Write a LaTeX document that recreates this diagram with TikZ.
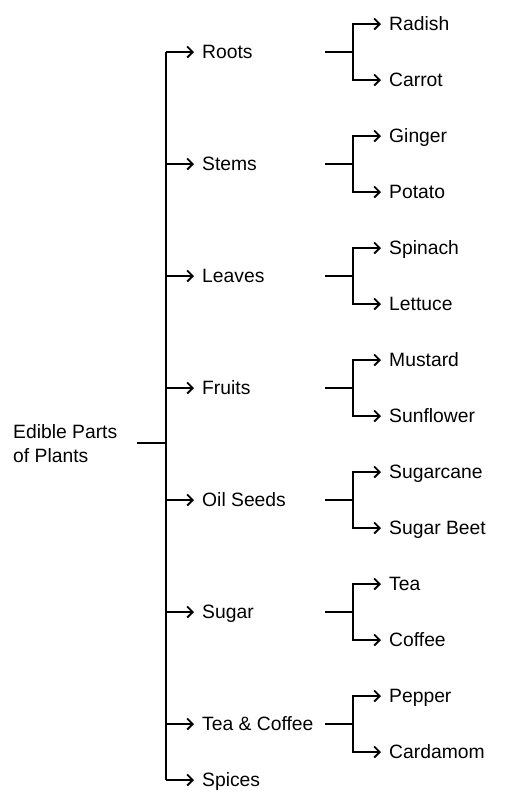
\documentclass[tikz,border=0pt]{standalone}
\usepackage{fontspec}
\setmainfont{Liberation Sans}
\usetikzlibrary{arrows.meta}

\begin{document}
\begin{tikzpicture}[x=1pt, y=-1pt,
  line/.style={line width=1.8pt, line join=miter},
  arr/.style={line, -{Straight Barb[length=5.5pt, width=11pt]}},
  part/.style={anchor=west, inner xsep=8pt, inner ysep=0pt, text height=13.6pt, text depth=0pt, font=\fontsize{19.3}{24}\selectfont}]
\useasboundingbox (0,0) rectangle (508,804);
\node[anchor=west, inner sep=0pt, align=left, font=\fontsize{19.3}{24}\selectfont] (root) at (13,444) {Edible Parts\\of Plants};
\coordinate (stub) at (137,443);
\coordinate (hub) at (166,443);
\coordinate (top) at (166,52);
\coordinate (bot) at (166,780);
\draw[line] (stub) -- (hub);
\draw[line] (top) -- (bot);
\node[part] (roots) at (194,52) {Roots};
\node[part] (stems) at (194,164) {Stems};
\node[part] (leaves) at (194,276) {Leaves};
\node[part] (fruits) at (194,388) {Fruits};
\node[part] (oil) at (194,500) {Oil Seeds};
\node[part] (sugar) at (194,612) {Sugar};
\node[part] (tea) at (194,724) {Tea \& Coffee};
\node[part] (spices) at (194,780) {Spices};
\draw[arr] (roots -| top) -- (roots.west);
\draw[arr] (stems -| top) -- (stems.west);
\draw[arr] (leaves -| top) -- (leaves.west);
\draw[arr] (fruits -| top) -- (fruits.west);
\draw[arr] (oil -| top) -- (oil.west);
\draw[arr] (sugar -| top) -- (sugar.west);
\draw[arr] (tea -| top) -- (tea.west);
\draw[arr] (spices -| top) -- (spices.west);
% second level
\node[part] (radish) at (381,24) {Radish};
\node[part] (carrot) at (381,80) {Carrot};
\node[part] (ginger) at (381,136) {Ginger};
\node[part] (potato) at (381,192) {Potato};
\node[part] (spinach) at (381,248) {Spinach};
\node[part] (lettuce) at (381,304) {Lettuce};
\node[part] (mustard) at (381,360) {Mustard};
\node[part] (sunflower) at (381,416) {Sunflower};
\node[part] (sugarcane) at (381,472) {Sugarcane};
\node[part] (beet) at (381,528) {Sugar Beet};
\node[part] (tealeaf) at (381,584) {Tea};
\node[part] (coffee) at (381,640) {Coffee};
\node[part] (pepper) at (381,696) {Pepper};
\node[part] (cardamom) at (381,752) {Cardamom};
\coordinate (roots-o) at (325,52);   \coordinate (roots-j) at (353,52);
\coordinate (stems-o) at (325,164);  \coordinate (stems-j) at (353,164);
\coordinate (leaves-o) at (325,276); \coordinate (leaves-j) at (353,276);
\coordinate (fruits-o) at (325,388); \coordinate (fruits-j) at (353,388);
\coordinate (oil-o) at (325,500);    \coordinate (oil-j) at (353,500);
\coordinate (sugar-o) at (325,612);  \coordinate (sugar-j) at (353,612);
\coordinate (tea-o) at (325,724);    \coordinate (tea-j) at (353,724);
\draw[line] (roots-o) -- (roots-j);
\draw[arr] (roots-j) |- (radish.west);
\draw[arr] (roots-j) |- (carrot.west);
\draw[line] (stems-o) -- (stems-j);
\draw[arr] (stems-j) |- (ginger.west);
\draw[arr] (stems-j) |- (potato.west);
\draw[line] (leaves-o) -- (leaves-j);
\draw[arr] (leaves-j) |- (spinach.west);
\draw[arr] (leaves-j) |- (lettuce.west);
\draw[line] (fruits-o) -- (fruits-j);
\draw[arr] (fruits-j) |- (mustard.west);
\draw[arr] (fruits-j) |- (sunflower.west);
\draw[line] (oil-o) -- (oil-j);
\draw[arr] (oil-j) |- (sugarcane.west);
\draw[arr] (oil-j) |- (beet.west);
\draw[line] (sugar-o) -- (sugar-j);
\draw[arr] (sugar-j) |- (tealeaf.west);
\draw[arr] (sugar-j) |- (coffee.west);
\draw[line] (tea-o) -- (tea-j);
\draw[arr] (tea-j) |- (pepper.west);
\draw[arr] (tea-j) |- (cardamom.west);
\end{tikzpicture}
\end{document}
